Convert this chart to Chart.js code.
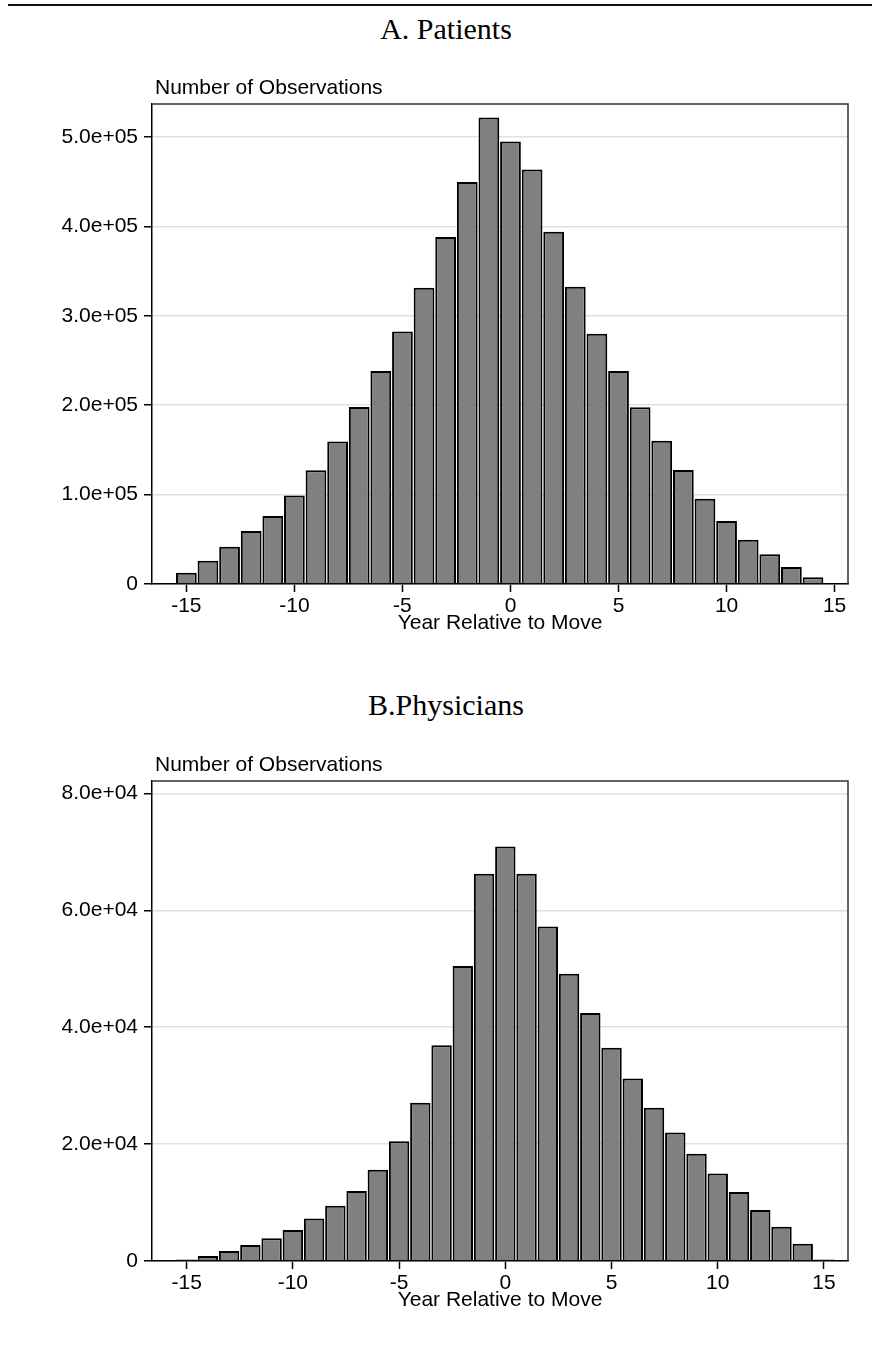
<!DOCTYPE html>
<html>
<head>
<meta charset="utf-8">
<script src="https://cdn.jsdelivr.net/npm/chart.js@4.4.1/dist/chart.umd.min.js"></script>
<style>
  html, body { margin: 0; padding: 0; background: #fff; }
  body { width: 872px; height: 1353px; position: relative; overflow: hidden; }
  .rule { position: absolute; left: 8px; top: 4px; width: 864px; height: 2px; background: #111; }
  .ptitle { position: absolute; left: 246px; width: 400px; text-align: center;
            font-family: "Liberation Serif", "Times New Roman", serif; font-size: 30px; color: #000; line-height: 1; }
  canvas { position: absolute; left: 0; }
</style>
</head>
<body>
<div class="rule"></div>
<div class="ptitle" id="titleA" style="top:14px;">A. Patients</div>
<div class="ptitle" id="titleB" style="top:690px;">B.Physicians</div>
<div style="position:absolute;left:0;top:0;width:872px;height:650px;"><canvas id="chartA"></canvas></div>
<div style="position:absolute;left:0;top:650px;width:872px;height:703px;"><canvas id="chartB"></canvas></div>
<script>
// ---------- Data ----------
const yearsA = [-15,-14,-13,-12,-11,-10,-9,-8,-7,-6,-5,-4,-3,-2,-1,0,1,2,3,4,5,6,7,8,9,10,11,12,13,14];
const patients = [12700,26000,41800,59300,76100,98900,127200,159300,198100,238400,282500,331300,388100,449600,522000,
                  495100,463800,394000,332500,279900,238400,197800,160400,127600,95500,70500,49600,33200,19000,7500];

const yearsB = [-15,-14,-13,-12,-11,-10,-9,-8,-7,-6,-5,-4,-3,-2,-1,0,1,2,3,4,5,6,7,8,9,10,11,12,13,14,15];
const physicians = [250,860,1710,2750,3910,5320,7270,9470,11980,15590,20480,27080,36920,50490,66260,
                    70900,66260,57210,49140,42420,36490,31230,26220,22000,18340,14980,11800,8740,5870,2930,250];

const xTickValues = [-15,-10,-5,0,5,10,15];
const xTickLabels = ['-15','-10','-5','0','5','10','15'];
const yTickValuesA = [0,100000,200000,300000,400000,500000];
const yTickLabelsA = ['0','1.0e+05','2.0e+05','3.0e+05','4.0e+05','5.0e+05'];
const yTickValuesB = [0,20000,40000,60000,80000];
const yTickLabelsB = ['0','2.0e+04','4.0e+04','6.0e+04','8.0e+04'];

const yTitle = 'Number of Observations';
const xTitle = 'Year Relative to Move';

// ---------- Helpers ----------
const SANS = '"Liberation Sans", Arial, Helvetica, sans-serif';

const frame = {
  id: 'frame',
  afterDatasetsDraw(chart) {
    const {ctx, chartArea: a} = chart;
    ctx.save();
    ctx.strokeStyle = '#333';
    ctx.lineWidth = 1.5;
    ctx.beginPath();
    ctx.moveTo(a.left, a.top);
    ctx.lineTo(a.right, a.top);
    ctx.lineTo(a.right, a.bottom);
    ctx.stroke();
    ctx.restore();
  },
  afterDraw(chart) {
    const {ctx, chartArea: a} = chart;
    ctx.save();
    ctx.fillStyle = '#000';
    ctx.font = '21px ' + SANS;
    ctx.textAlign = 'left';
    ctx.textBaseline = 'alphabetic';
    ctx.fillText(yTitle, a.left + 3, a.top - 10);
    ctx.restore();
  }
};

function makeChart(id, years, values, xMin, xMax, yMax, yVals, yLabs, pad) {
  const data = years.map((x, i) => ({x: x, y: values[i]}));
  return new Chart(document.getElementById(id), {
    type: 'bar',
    data: {
      datasets: [{
        data: data,
        backgroundColor: '#808080',
        borderColor: '#000',
        borderWidth: 2,
        barPercentage: 0.96,
        categoryPercentage: 1.0
      }]
    },
    options: {
      responsive: true,
      maintainAspectRatio: false,
      animation: false,
      layout: { padding: pad },
      plugins: { legend: { display: false }, tooltip: { enabled: false } },
      scales: {
        x: {
          type: 'linear',
          min: xMin, max: xMax,
          offset: false,
          afterBuildTicks: (s) => { s.ticks = xTickValues.map(v => ({value: v})); },
          afterFit: (s) => { s.height = 52; },
          ticks: {
            color: '#000', font: {family: SANS, size: 21}, padding: 2,
            autoSkip: false, maxRotation: 0,
            callback: (v) => { const i = xTickValues.indexOf(v); return i >= 0 ? xTickLabels[i] : ''; }
          },
          grid: { offset: false, drawOnChartArea: false, tickLength: 8, tickColor: '#000', tickWidth: 1.5 },
          border: { display: true, color: '#000', width: 1.5 },
          title: { display: true, text: xTitle, color: '#000', font: {family: SANS, size: 21},
                   padding: {top: 0, bottom: 0} }
        },
        y: {
          min: 0, max: yMax,
          afterBuildTicks: (s) => { s.ticks = yVals.map(v => ({value: v})); },
          afterFit: (s) => { s.width = 152; },
          ticks: {
            color: '#000', font: {family: SANS, size: 21}, padding: 6,
            callback: (v) => { const i = yVals.indexOf(v); return i >= 0 ? yLabs[i] : ''; }
          },
          grid: { color: '#e0e0e0', lineWidth: 1.5, tickLength: 8, tickColor: '#000', tickWidth: 1.5 },
          border: { display: true, color: '#000', width: 1.5 }
        }
      }
    },
    plugins: [frame]
  });
}

makeChart('chartA', yearsA, patients, -16.59, 15.62, 537000, yTickValuesA, yTickLabelsA,
          {top: 104, bottom: 14, left: 0, right: 24});
makeChart('chartB', yearsB, physicians, -16.63, 16.13, 82120, yTickValuesB, yTickLabelsB,
          {top: 131, bottom: 40, left: 0, right: 24});
</script>
</body>
</html>
